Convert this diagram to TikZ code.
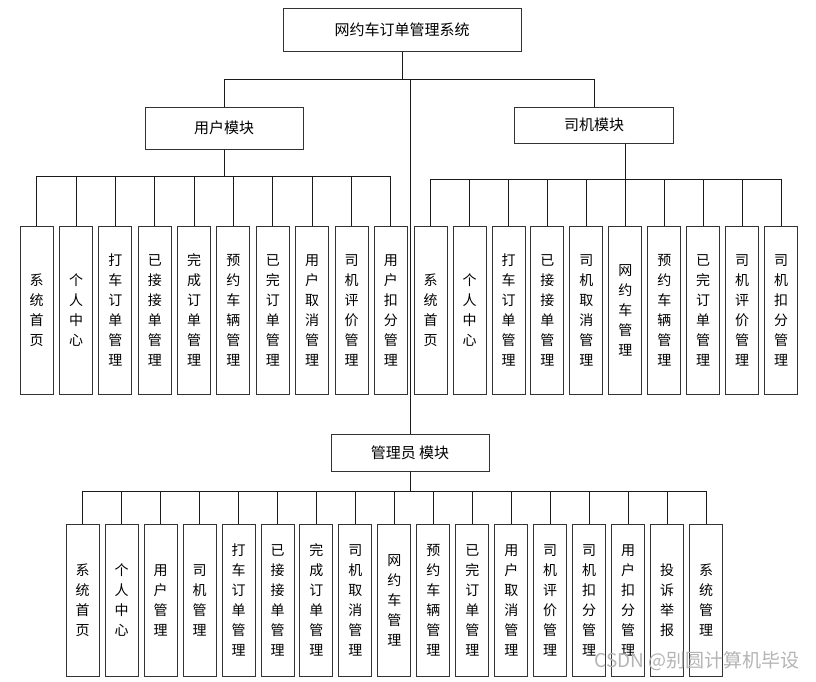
\documentclass[tikz,border=0pt]{standalone}
\usepackage{fontspec}
\setmainfont{Noto Sans CJK SC}
\usetikzlibrary{positioning,calc}
\definecolor{edge}{HTML}{1A1A1A}
\definecolor{frame}{HTML}{333333}
\definecolor{mark}{HTML}{B4B4B4}
\tikzset{
  link/.style={draw=edge,line width=1pt},
  headbox/.style={draw=frame,line width=1pt,inner sep=0pt,font=\fontsize{15}{18}\selectfont},
  leafbox/.style={draw=frame,line width=1pt,inner sep=0pt,align=center,
    minimum width=33pt,minimum height=168pt,font=\fontsize{14}{20}\selectfont},
  adminleaf/.style={leafbox,minimum height=152pt}
}

\begin{document}
\begin{tikzpicture}[x=1pt,y=-1pt]
  \useasboundingbox (0,0) rectangle (816,681);
  % top level
  \node[headbox,minimum width=238pt,minimum height=43pt] (root) at (402,30) {网约车订单管理系统};
  \node[headbox,minimum width=158pt,minimum height=42pt] (user) at (224,128) {用户模块};
  \node[headbox,minimum width=159pt,minimum height=36pt] (driver) at (594,125) {司机模块};
  \node[headbox,minimum width=158pt,minimum height=37pt] (admin) at (410,452.5) {管理员 模块};
  \coordinate (mbus) at (0,79);
  \coordinate (ubus) at (0,176);
  \coordinate (dbus) at (0,179);
  \coordinate (abus) at (0,491);
  % user row
  \foreach \t [count=\i] in {{系\\统\\首\\页},{个\\人\\中\\心},{打\\车\\订\\单\\管\\理},
      {已\\接\\接\\单\\管\\理},{完\\成\\订\\单\\管\\理},{预\\约\\车\\辆\\管\\理},
      {已\\完\\订\\单\\管\\理},{用\\户\\取\\消\\管\\理},{司\\机\\评\\价\\管\\理},
      {用\\户\\扣\\分\\管\\理}}
    \node[leafbox] (u\i) at ({36.7+39.35*(\i-1)},310) {\t};
  % driver row
  \foreach \t [count=\i] in {{系\\统\\首\\页},{个\\人\\中\\心},{打\\车\\订\\单\\管\\理},
      {已\\接\\接\\单\\管\\理},{司\\机\\取\\消\\管\\理},{网\\约\\车\\管\\理},
      {预\\约\\车\\辆\\管\\理},{已\\完\\订\\单\\管\\理},{司\\机\\评\\价\\管\\理},
      {司\\机\\扣\\分\\管\\理}}
    \node[leafbox] (d\i) at ({430.7+38.93*(\i-1)},310) {\t};
  % admin row
  \foreach \t [count=\i] in {{系\\统\\首\\页},{个\\人\\中\\心},{用\\户\\管\\理},
      {司\\机\\管\\理},{打\\车\\订\\单\\管\\理},{已\\接\\接\\单\\管\\理},
      {完\\成\\订\\单\\管\\理},{司\\机\\取\\消\\管\\理},{网\\约\\车\\管\\理},
      {预\\约\\车\\辆\\管\\理},{已\\完\\订\\单\\管\\理},{用\\户\\取\\消\\管\\理},
      {司\\机\\评\\价\\管\\理},{司\\机\\扣\\分\\管\\理},{用\\户\\扣\\分\\管\\理},
      {投\\诉\\举\\报},{系\\统\\管\\理}}
    \node[adminleaf] (a\i) at ({82.7+38.96*(\i-1)},600) {\t};
  % connectors
  \draw[link] (root.south) |- (mbus -| user) -- (user.north);
  \draw[link] (root.south) |- (mbus -| driver) -- (driver.north);
  \draw[link] (root.south) |- (mbus -| admin) -- (admin.north);
  \foreach \i in {1,...,10} \draw[link] (user.south) |- (ubus -| u\i) -- (u\i.north);
  \foreach \i in {1,...,10} \draw[link] (driver.south -| d6) |- (dbus -| d\i) -- (d\i.north);
  \foreach \i in {1,...,17} \draw[link] (admin.south) |- (abus -| a\i) -- (a\i.north);
  \node[text=mark,font=\fontsize{19}{19}\selectfont,anchor=east,inner sep=0pt] (credit) at (800,661) {CSDN @别圆计算机毕设};
\end{tikzpicture}
\end{document}
